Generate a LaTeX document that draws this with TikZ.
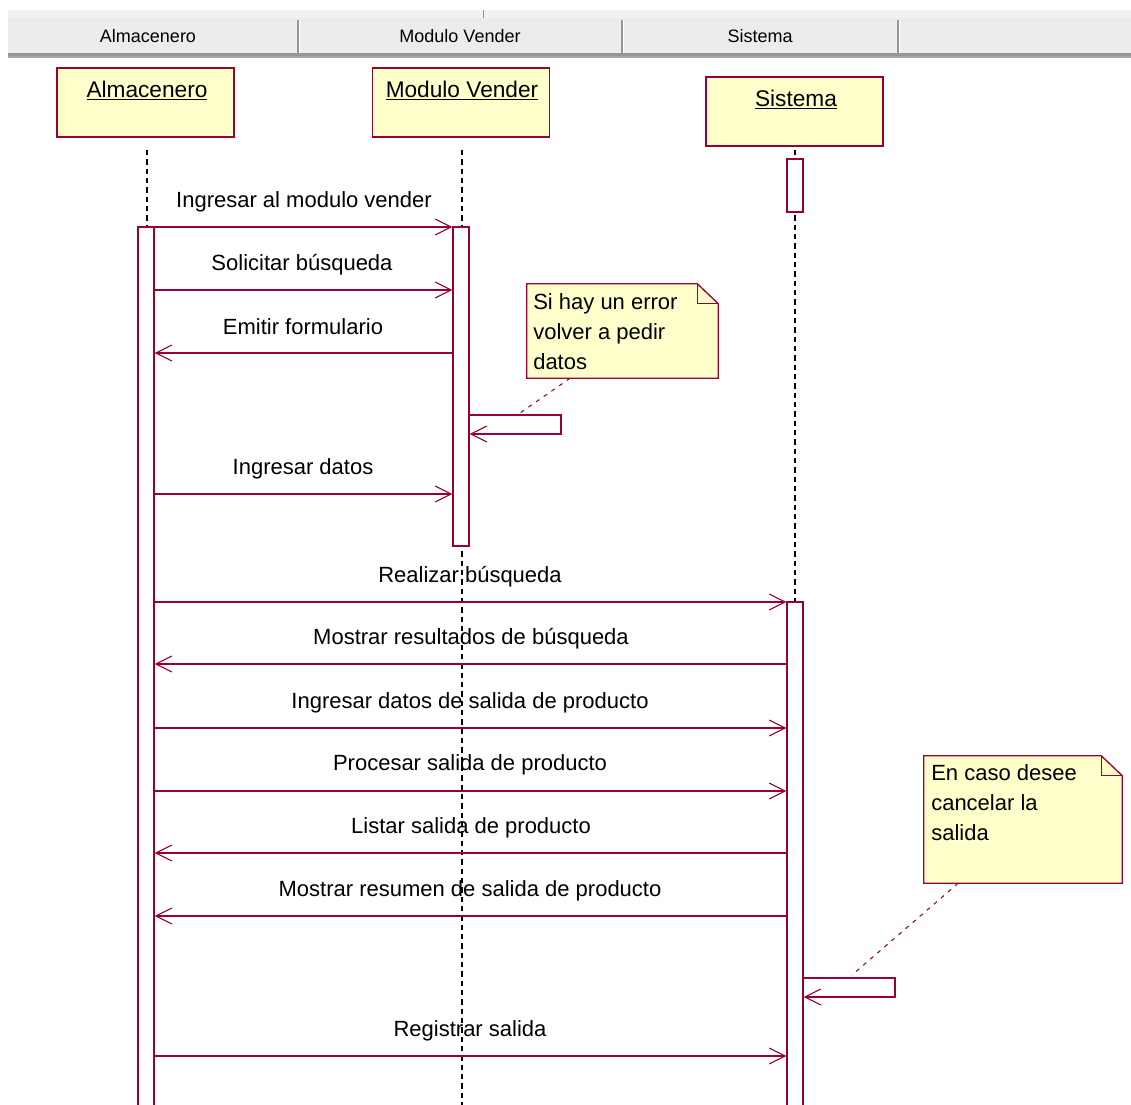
\documentclass[tikz,border=0pt]{standalone}
\usepackage{fontspec}
\setmainfont{Liberation Sans}
\usetikzlibrary{arrows.meta}
\definecolor{umlred}{RGB}{153,0,51}
\definecolor{umlfill}{RGB}{255,255,204}
\definecolor{hdrbg}{RGB}{236,236,236}
\definecolor{hdrtop}{RGB}{242,242,242}
\definecolor{hdrline}{RGB}{150,150,150}
\tikzset{
  obj/.style={draw=umlred, fill=umlfill, line width=1pt, minimum width=132.75pt, minimum height=51.75pt, inner sep=0pt},
  objtext/.style={font=\fontsize{17}{20}\selectfont, inner sep=0pt, anchor=base},
  act/.style={draw=umlred, fill=white, line width=1pt, minimum width=12pt, inner sep=0pt},
  msg/.style={draw=umlred, line width=0.8pt, -{Straight Barb[length=12pt,width=12pt]}},
  lbl/.style={font=\fontsize{16.5}{20}\selectfont, inner sep=0pt},
  life/.style={draw=black, line width=0.9pt, dash pattern=on 4pt off 3pt},
  notetext/.style={font=\fontsize{16.5}{22.5}\selectfont, align=left, inner sep=0pt, anchor=north west},
  noteline/.style={draw=umlred, line width=0.8pt, dash pattern=on 3pt off 4pt},
  hdrtext/.style={font=\fontsize{13.5}{16}\selectfont, inner sep=0pt}
}
\begin{document}
\begin{tikzpicture}[x=0.75pt,y=-0.75pt]
\useasboundingbox (0,0) rectangle (1131,1104);
\clip (0,0) rectangle (1131,1104);
\fill[white] (0,0) rectangle (1131,1104);

% header bar
\fill[hdrtop] (8,10) rectangle (1131,18);
\draw[hdrline, line width=0.6pt] (483,10) -- (483,18);
\fill[hdrbg] (8,18) rectangle (1131,53);
\fill[hdrline] (8,53) rectangle (1131,56);
\fill[gray!70] (8,56) rectangle (1131,58);
\foreach \xx in {298,622,898} {
  \draw[hdrline, line width=1pt] (\xx,20) -- (\xx,53);
  \draw[white, line width=1pt] (\xx+1.5,20) -- (\xx+1.5,53);
}
\node[hdrtext] (h1) at (148,36) {Almacenero};
\node[hdrtext] (h2) at (460,36) {Modulo Vender};
\node[hdrtext] (h3) at (760,36) {Sistema};

% objects
\node[obj] (oA) at (145.5,102.5) {};
\node[obj] (oM) at (461,102.5) {};
\node[obj] (oS) at (794.5,111.5) {};
\node[objtext] (tA) at (147,97) {\underline{Almacenero}};
\node[objtext] (tM) at (462,97) {\underline{Modulo Vender}};
\node[objtext] (tS) at (796,106) {\underline{Sistema}};

% lifelines
\draw[life] (147,150) -- (147,240);
\draw[life] (462,150) -- (462,1110);
\draw[life] (795,150) -- (795,1110);

% activations
\node[act, minimum height=662.25pt] (aA) at (146,668.5) {};
\node[act, minimum height=239.25pt] (aM) at (461,386.5) {};
\node[act, minimum height=39.75pt] (aS0) at (795,185.5) {};
\node[act, minimum height=381pt] (aS) at (795,856) {};

% messages
\draw[msg] (aA.east |- 0,227) -- (aM.west |- 0,227);
\node[lbl] (l1) at (304,202) {Ingresar al modulo vender};
\draw[msg] (aA.east |- 0,290) -- (aM.west |- 0,290);
\node[lbl] (l2) at (302,265) {Solicitar búsqueda};
\draw[msg] (aM.west |- 0,353) -- (aA.east |- 0,353);
\node[lbl] (l3) at (303,327) {Emitir formulario};
\draw[msg] (aM.east |- 0,415) -- (561,415) -- (561,434) -- (aM.east |- 0,434);
\draw[msg] (aA.east |- 0,494) -- (aM.west |- 0,494);
\node[lbl] (l5) at (303,469) {Ingresar datos};
\draw[msg] (aA.east |- 0,602) -- (aS.west |- 0,602);
\node[lbl] (l6) at (470,577) {Realizar búsqueda};
\draw[msg] (aS.west |- 0,664) -- (aA.east |- 0,664);
\node[lbl] (l7) at (471,639) {Mostrar resultados de búsqueda};
\draw[msg] (aA.east |- 0,728) -- (aS.west |- 0,728);
\node[lbl] (l8) at (470,703) {Ingresar datos de salida de producto};
\draw[msg] (aA.east |- 0,791) -- (aS.west |- 0,791);
\node[lbl] (l9) at (470,765) {Procesar salida de producto};
\draw[msg] (aS.west |- 0,853) -- (aA.east |- 0,853);
\node[lbl] (l10) at (471,828) {Listar salida de producto};
\draw[msg] (aS.west |- 0,916) -- (aA.east |- 0,916);
\node[lbl] (l11) at (470,891) {Mostrar resumen de salida de producto};
\draw[msg] (aS.east |- 0,978) -- (895,978) -- (895,997) -- (aS.east |- 0,997);
\draw[msg] (aA.east |- 0,1056) -- (aS.west |- 0,1056);
\node[lbl] (l13) at (470,1031) {Registrar salida};

% note 1
\node[minimum width=143.25pt, minimum height=70.5pt, inner sep=0pt] (n1) at (622.5,331) {};
\draw[umlred, fill=umlfill, line width=1pt] (n1.south west) -- (n1.north west) -- ([xshift=-15.75pt]n1.north east) -- ([yshift=-15pt]n1.north east) -- (n1.south east) -- cycle;
\draw[umlred, line width=1pt] ([xshift=-15.75pt]n1.north east) -- ([xshift=-15.75pt,yshift=-15pt]n1.north east) -- ([yshift=-15pt]n1.north east);
\node[notetext] (nt1) at (533,293) {Si hay un error\\volver a pedir\\datos};
\draw[noteline] (n1.south -| 570,0) -- (520,413);

% note 2
\node[minimum width=148.5pt, minimum height=95.25pt, inner sep=0pt] (n2) at (1023,819.5) {};
\draw[umlred, fill=umlfill, line width=1pt] (n2.south west) -- (n2.north west) -- ([xshift=-15.75pt]n2.north east) -- ([yshift=-15pt]n2.north east) -- (n2.south east) -- cycle;
\draw[umlred, line width=1pt] ([xshift=-15.75pt]n2.north east) -- ([xshift=-15.75pt,yshift=-15pt]n2.north east) -- ([yshift=-15pt]n2.north east);
\node[notetext] (nt2) at (931,764) {En caso desee\\cancelar la\\salida};
\draw[noteline] (n2.south -| 958,0) -- (852,975);
\end{tikzpicture}
\end{document}
